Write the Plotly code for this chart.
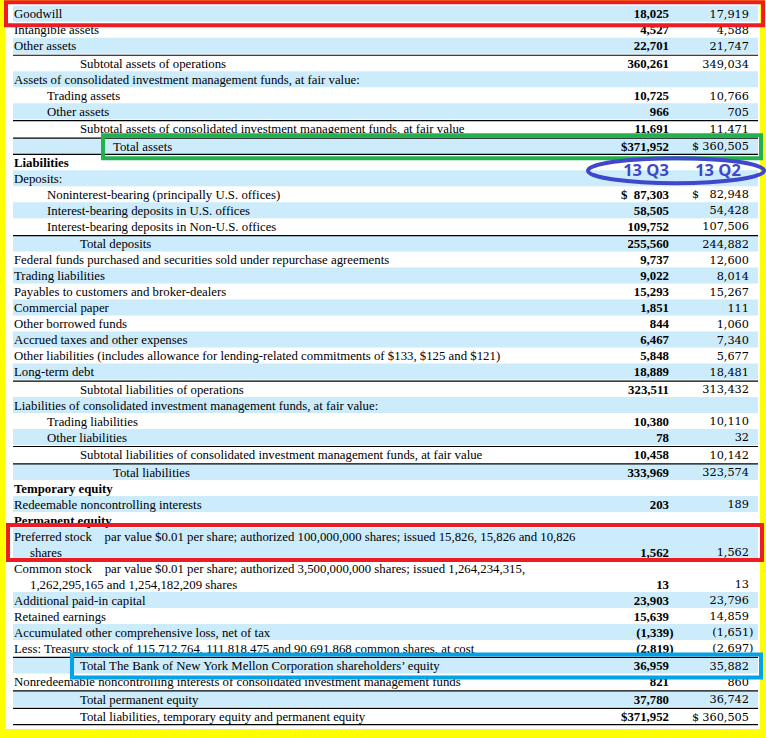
import plotly.graph_objects as go

W, H = 766, 738

periods = ["13 Q3", "13 Q2"]

# "|" splits a label over two lines
labels = [
    "Goodwill",
    "Intangible assets",
    "Other assets",
    "Subtotal assets of operations",
    "Assets of consolidated investment management funds, at fair value:",
    "Trading assets",
    "Other assets",
    "Subtotal assets of consolidated investment management funds, at fair value",
    "Total assets",
    "Liabilities",
    "Deposits:",
    "Noninterest-bearing (principally U.S. offices)",
    "Interest-bearing deposits in U.S. offices",
    "Interest-bearing deposits in Non-U.S. offices",
    "Total deposits",
    "Federal funds purchased and securities sold under repurchase agreements",
    "Trading liabilities",
    "Payables to customers and broker-dealers",
    "Commercial paper",
    "Other borrowed funds",
    "Accrued taxes and other expenses",
    "Other liabilities (includes allowance for lending-related commitments of $133, $125 and $121)",
    "Long-term debt",
    "Subtotal liabilities of operations",
    "Liabilities of consolidated investment management funds, at fair value:",
    "Trading liabilities",
    "Other liabilities",
    "Subtotal liabilities of consolidated investment management funds, at fair value",
    "Total liabilities",
    "Temporary equity",
    "Redeemable noncontrolling interests",
    "Permanent equity",
    "Preferred stock \u00a0\u00a0\u00a0par value $0.01 per share; authorized 100,000,000 shares; issued 15,826, 15,826 and 10,826|shares",
    "Common stock \u00a0\u00a0\u00a0par value $0.01 per share; authorized 3,500,000,000 shares; issued 1,264,234,315,|1,262,295,165 and 1,254,182,209 shares",
    "Additional paid-in capital",
    "Retained earnings",
    "Accumulated other comprehensive loss, net of tax",
    "Less: Treasury stock of 115,712,764, 111,818,475 and 90,691,868 common shares, at cost",
    "Total The Bank of New York Mellon Corporation shareholders\u2019 equity",
    "Nonredeemable noncontrolling interests of consolidated investment management funds",
    "Total permanent equity",
    "Total liabilities, temporary equity and permanent equity",
]

indent = [0, 0, 0, 2, 0, 1, 1, 2, 3, 0, 0, 1, 1, 1, 2, 0, 0, 0, 0, 0, 0,
          0, 0, 2, 0, 1, 1, 2, 3, 0, 0, 0, 0, 0, 0, 0, 0, 0, 2, 0, 2, 2]

q3 = [18025, 4527, 22701, 360261, None, 10725, 966, 11691, 371952, None, None,
      87303, 58505, 109752, 255560, 9737, 9022, 15293, 1851, 844, 6467, 5848,
      18889, 323511, None, 10380, 78, 10458, 333969, None, 203, None, 1562, 13,
      23903, 15639, -1339, -2819, 36959, 821, 37780, 371952]

q2 = [17919, 4588, 21747, 349034, None, 10766, 705, 11471, 360505, None, None,
      82948, 54428, 107506, 244882, 12600, 8014, 15267, 111, 1060, 7340, 5677,
      18481, 313432, None, 10110, 32, 10142, 323574, None, 189, None, 1562, 13,
      23796, 14859, -1651, -2697, 35882, 860, 36742, 360505]

bold_rows = ["Liabilities", "Temporary equity", "Permanent equity"]
dollar_rows = [8, 11, 41]
ruled_rows = [3, 7, 8, 14, 23, 27, 28, 38, 40, 41]

# row geometry (pixels)
STEP, EXTRA, TOP = 16, 1.45, 14.3
line_y = []
y = TOP
for i, lab in enumerate(labels):
    if i in ruled_rows:
        y += EXTRA
    ys = []
    for _ in lab.split("|"):
        ys.append(y)
        y += STEP
    line_y.append(ys)

X_LEFT, X_IND = 14, 33
X_Q3, X_Q2 = 669, 749
X_D3, X_D2 = 621, 692
STRIPE = "#ccecfc"
TXT_DY = 1  # nudge text down onto the row centre

shapes = []
for i, ys in enumerate(line_y):
    if i % 2 == 0:
        shapes.append(dict(type="rect", x0=13, x1=758, y0=ys[0] - 8.5, y1=ys[-1] + 7.5,
                           fillcolor=STRIPE, line_width=0, layer="below"))
    if i in ruled_rows:
        shapes.append(dict(type="line", x0=13, x1=758, y0=ys[0] - 8.5, y1=ys[0] - 8.5,
                           line=dict(color="black", width=1.2)))
for i in [8, 41]:
    yb = line_y[i][-1] + 7.8
    shapes.append(dict(type="line", x0=13, x1=758, y0=yb, y1=yb,
                       line=dict(color="black", width=1.2)))

# yellow frame
for x0, x1, y0, y1 in [(0, 5, 0, H), (760, W, 0, H), (0, W, 0, 2), (0, W, 729, H)]:
    shapes.append(dict(type="rect", x0=x0, x1=x1, y0=y0, y1=y1,
                       fillcolor="#ffff00", line_width=0))

# highlight boxes
g, ta, pf, bny, liab = line_y[0][0], line_y[8][0], line_y[32], line_y[38][0], line_y[9][0]
shapes += [
    dict(type="rect", x0=6, x1=763, y0=g - 12, y1=g + 11, line=dict(color="#ed1c24", width=4)),
    dict(type="rect", x0=103, x1=761, y0=ta - 11.5, y1=ta + 11.5, line=dict(color="#22b14c", width=4)),
    dict(type="rect", x0=8, x1=762, y0=pf[0] - 11.5, y1=pf[1] + 7.5, line=dict(color="#ed1c24", width=4)),
    dict(type="rect", x0=72, x1=761, y0=bny - 11.5, y1=bny + 11.5, line=dict(color="#00a2e8", width=4)),
    dict(type="circle", x0=588, x1=764, y0=liab - 4.5, y1=liab + 20.5, line=dict(color="#3f48cc", width=4)),
]


def fmt(v):
    if v < 0:
        return "({:,})".format(-v)
    return "{:,}".format(v)


lx, ly, lt = [], [], []
for i, lab in enumerate(labels):
    parts = lab.split("|")
    for k, part in enumerate(parts):
        x = X_LEFT + indent[i] * X_IND if k == 0 else 30
        lx.append(x)
        ly.append(line_y[i][k] + TXT_DY)
        lt.append("<b>" + part + "</b>" if lab in bold_rows else part)

fig = go.Figure()
fig.add_trace(go.Scatter(x=lx, y=ly, text=lt, mode="text", textposition="middle right",
                         textfont=dict(family="Liberation Serif", size=12.8, color="black"),
                         hoverinfo="skip"))

for vals, xr, xd, font in [
    (q3, X_Q3, X_D3, dict(family="Liberation Serif", size=12.8, color="black", weight="bold")),
    (q2, X_Q2, X_D2, dict(family="DejaVu Serif", size=11.3, color="black")),
]:
    vx, vy, vt = [], [], []
    for i, v in enumerate(vals):
        if v is None:
            continue
        vx.append(xr + (4.5 if v < 0 else 0))
        vy.append(line_y[i][-1] + TXT_DY)
        vt.append(fmt(v))
    fig.add_trace(go.Scatter(x=vx, y=vy, text=vt, mode="text", textposition="middle left",
                             textfont=font, hoverinfo="skip"))
    fig.add_trace(go.Scatter(x=[xd] * len(dollar_rows), y=[line_y[i][-1] + TXT_DY for i in dollar_rows],
                             text=["$"] * len(dollar_rows), mode="text", textposition="middle right",
                             textfont=font, hoverinfo="skip"))

fig.add_trace(go.Scatter(x=[646, 718], y=[liab + 9.5] * 2, text=periods, mode="text",
                         textposition="middle center",
                         textfont=dict(family="Open Sans", size=16.5, color="#3f48cc", weight="bold"),
                         hoverinfo="skip"))

fig.update_layout(
    width=W, height=H,
    margin=dict(l=0, r=0, t=0, b=0),
    paper_bgcolor="white", plot_bgcolor="white",
    showlegend=False,
    shapes=shapes,
    xaxis=dict(range=[0, W], visible=False, fixedrange=True),
    yaxis=dict(range=[H, 0], visible=False, fixedrange=True),
)

fig.write_html("out.html", config={"displayModeBar": False},
               post_script="document.body.style.margin='0';")
